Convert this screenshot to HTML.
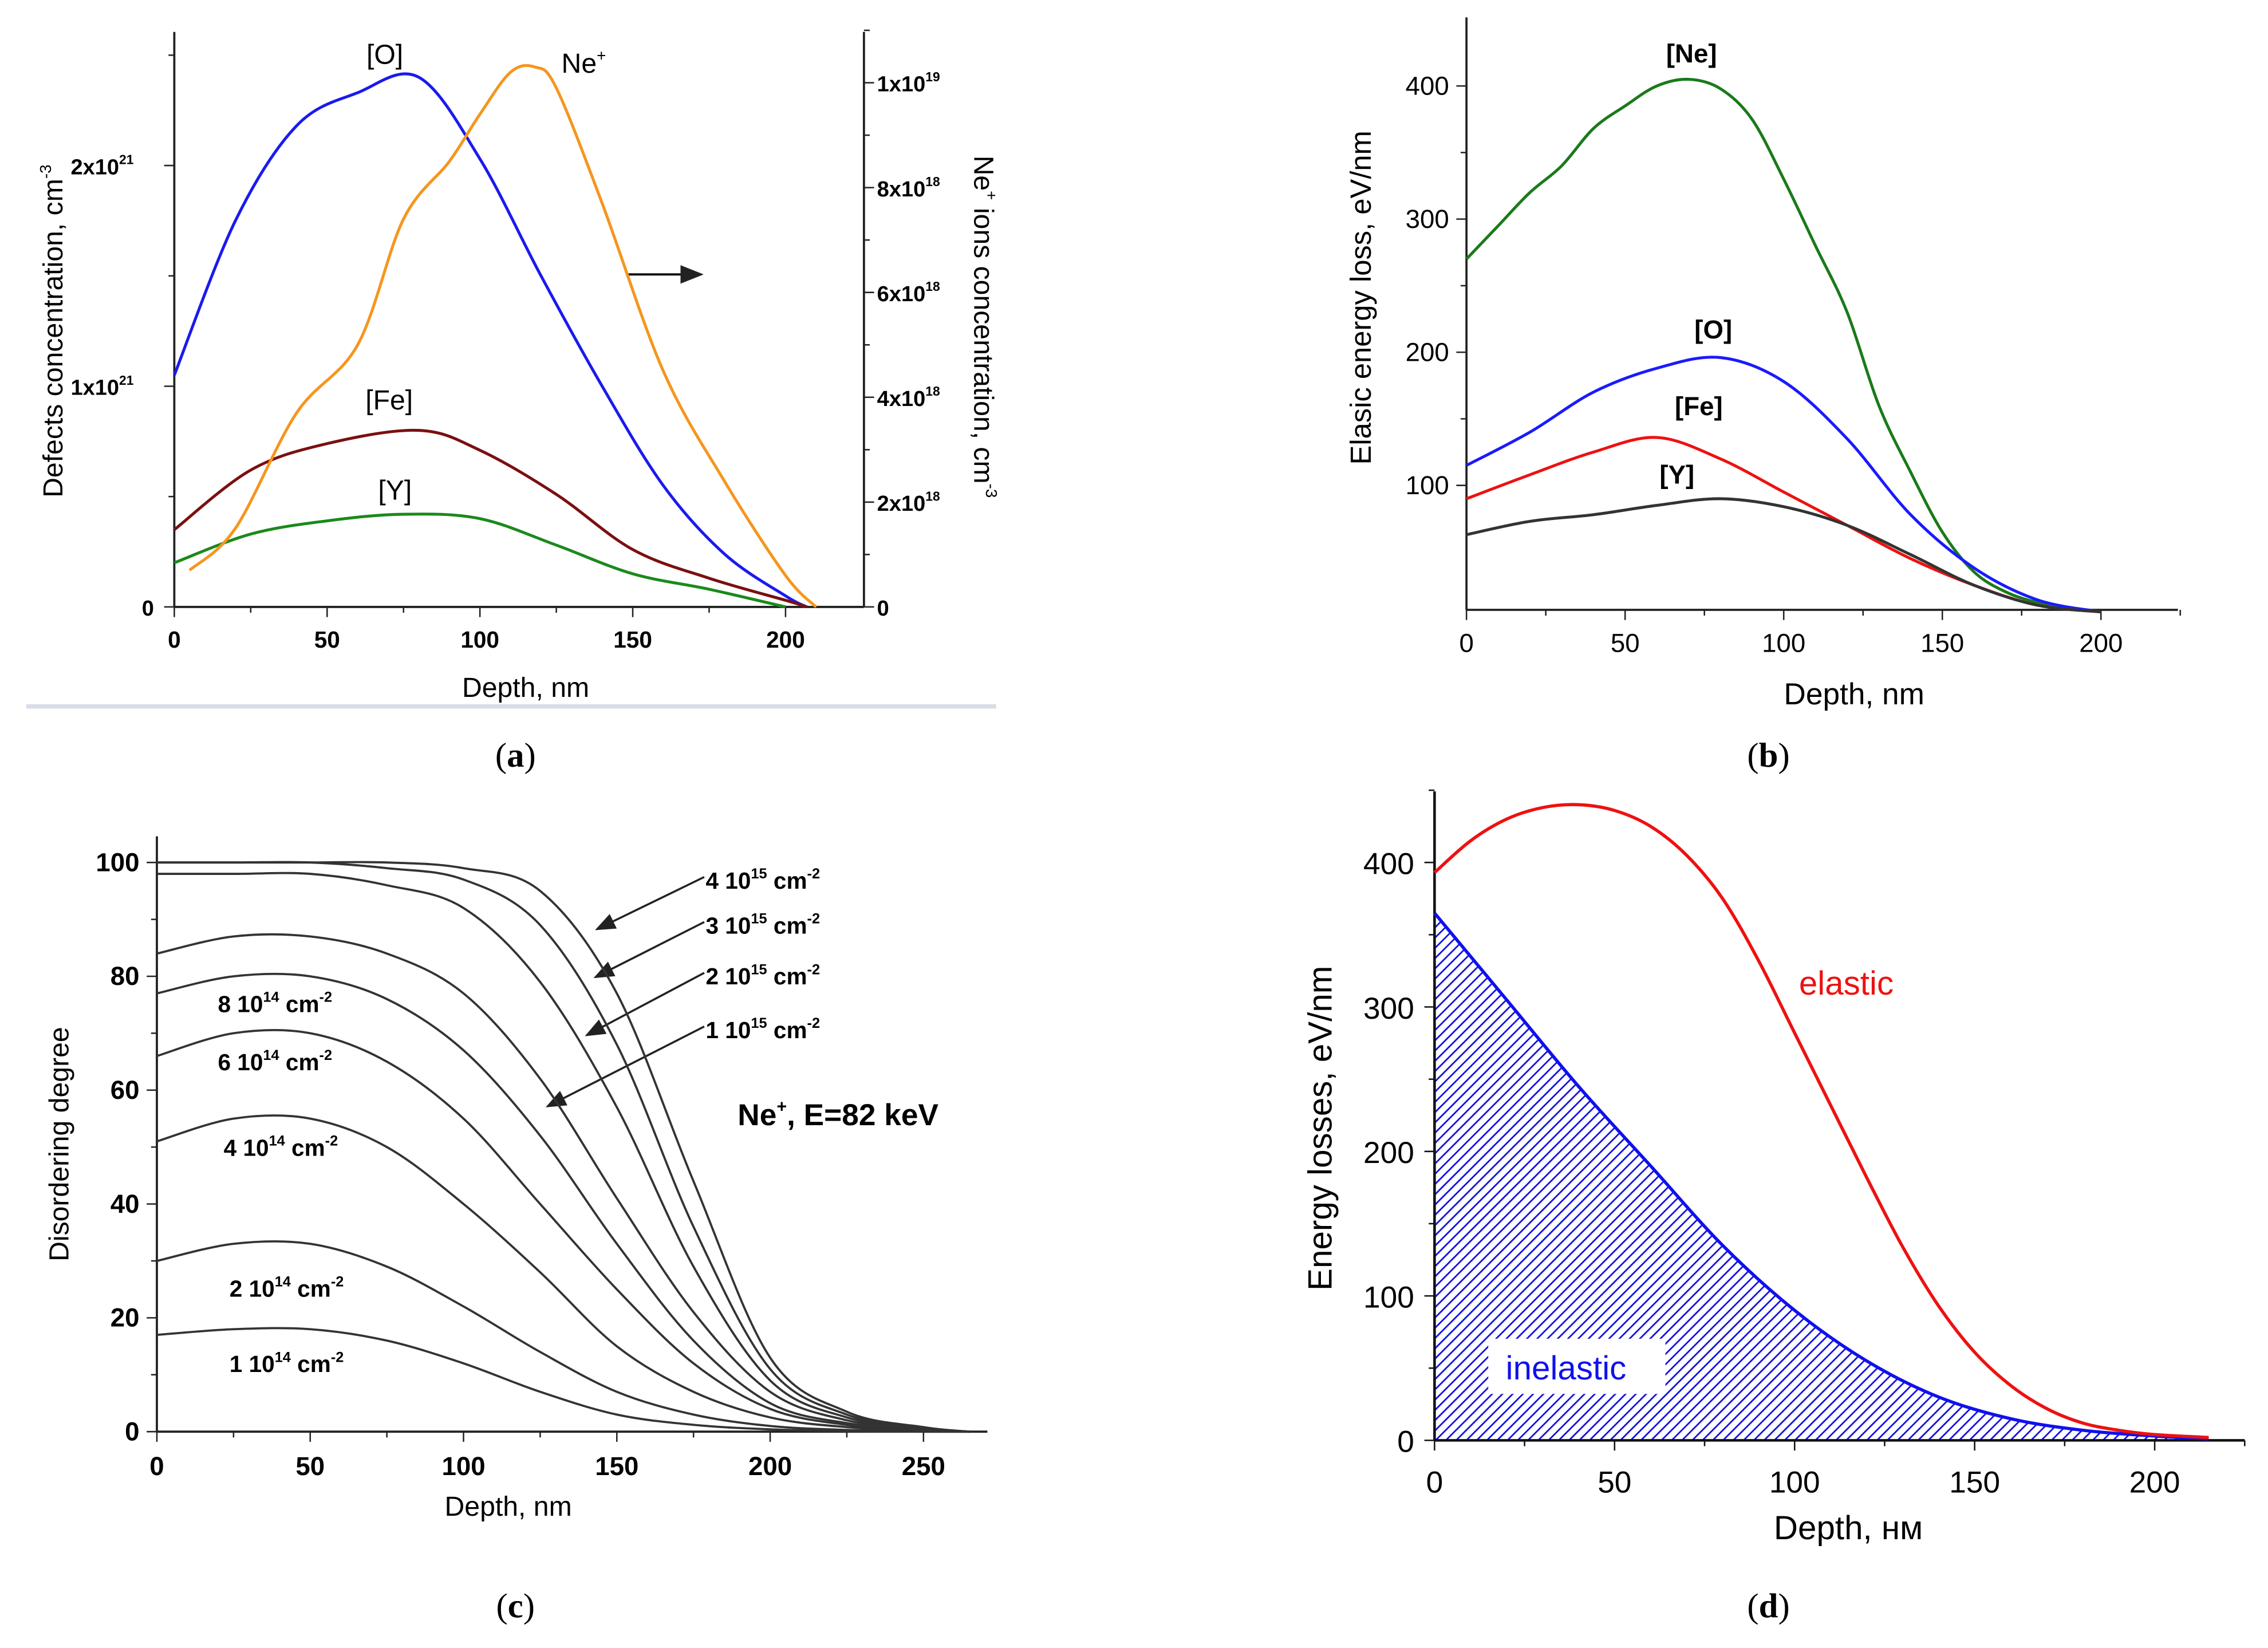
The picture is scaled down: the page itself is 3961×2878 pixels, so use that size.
<!DOCTYPE html>
<html><head><meta charset="utf-8"><style>
html,body{margin:0;padding:0;background:#fff}
svg{display:block}
text{font-family:"Liberation Sans",sans-serif}
.cap{font-family:"Liberation Serif",serif;font-size:24px}
</style></head><body>
<svg id="fig" width="3961" height="2878" viewBox="0 0 1562 1135" xmlns="http://www.w3.org/2000/svg">
<defs>
<pattern id="hatch" patternUnits="userSpaceOnUse" width="5" height="5" patternTransform="rotate(45)">
<rect width="5" height="5" fill="#fff"/><line x1="0" y1="0" x2="0" y2="5" stroke="#1010e0" stroke-width="2.2"/>
</pattern>
<marker id="arr" markerWidth="10" markerHeight="8" refX="9" refY="4" orient="auto"><path d="M0,0 L10,4 L0,8 z" fill="#222"/></marker>
</defs>
<g id="root"></g>
<text class="cap" x="355" y="528" text-anchor="middle">(<tspan font-weight="bold">a</tspan>)</text>
<text class="cap" x="1218" y="528" text-anchor="middle">(<tspan font-weight="bold">b</tspan>)</text>
<text class="cap" x="355" y="1114" text-anchor="middle">(<tspan font-weight="bold">c</tspan>)</text>
<text class="cap" x="1218" y="1114" text-anchor="middle">(<tspan font-weight="bold">d</tspan>)</text>
<rect x="18" y="485" width="668" height="3" fill="#d8dde6"/>
</svg>
<script>
// ---------- data ----------
// Panel a
const aDepth = [0,20,40,60,80,100,120,140,160,180,200,207];
const aO  = [1.05,1.75,2.18,2.33,2.40,2.03,1.5,1.0,0.55,0.24,0.05,0];
const aFeDepth = [0,25,50,80,100,125,150,175,200,207];
const aFe = [0.35,0.62,0.74,0.80,0.71,0.51,0.26,0.13,0.03,0];
const aYDepth = [0,25,50,75,100,125,150,175,200];
const aY  = [0.20,0.33,0.39,0.42,0.40,0.28,0.15,0.08,0.0];
const aNeDepth = [5,20,40,60,75,90,100,110,118,125,140,160,180,200,210];
const aNe = [0.7,1.5,3.7,5.0,7.4,8.5,9.4,10.2,10.3,9.9,7.7,4.5,2.4,0.6,0];
const aXTicks = [0,50,100,150,200];
const aYTicks = [0,1,2];
const aYTickLabels = ["0","1x10","2x10"];
const aRTicks = [0,2,4,6,8,10];
const aRTickLabels = ["0","2x10","4x10","6x10","8x10","1x10"];
// Panel b
const bDepth = [0,10,20,30,40,50,60,70,80,90,100,110,120,130,140,150,160,170,180,190,200];
const bNe = [270,295,320,340,368,385,400,405,398,375,330,280,230,160,110,65,35,20,12,8,5];
const bODepth = [0,20,40,60,80,100,120,140,160,180,200];
const bO = [115,140,170,188,196,178,135,78,38,14,5];
const bFeDepth = [0,20,40,60,80,100,120,140,160,180,200];
const bFe = [90,108,125,136,120,95,70,45,25,10,5];
const bYDepth = [0,20,40,60,80,100,120,140,160,180,200];
const bY = [63,73,78,85,90,84,70,48,25,10,5];
const bXTicks = [0,50,100,150,200];
const bYTicks = [100,200,300,400];
// Panel c
const cDepth = [0,25,50,75,100,125,150,175,200,225,250,265];
const cSeriesNames = ["1e14","2e14","4e14","6e14","8e14","1e15","2e15","3e15","4e15"];
const c1e14 = [17,18,18,16,12,7,3,1.2,0.4,0.1,0,0];
const c2e14 = [30,33,33,29,22,14,7,3,1,0.3,0.1,0];
const c4e14 = [51,55,55,50,40,28,15,7,2.5,0.8,0.2,0];
const c6e14 = [66,70,70,65,55,40,25,12,4,1.2,0.3,0];
const c8e14 = [77,80,80,76,67,52,33,16,5,1.5,0.4,0];
const c1e15 = [84,87,87,84,77,62,41,21,7,2,0.5,0];
const c2e15 = [98,98,98,96,92,79,57,29,9,2.5,0.6,0];
const c3e15 = [100,100,100,99,97,89,68,36,11,3,0.7,0];
const c4e15 = [100,100,100,100,99,95,77,44,13,3.5,0.8,0];
const cXTicks = [0,50,100,150,200,250];
const cYTicks = [0,20,40,60,80,100];
// Panel d
const dDepth = [0,10,20,30,40,50,60,70,80,90,100,110,120,130,140,150,160,170,180,190,200,215];
const dElastic = [393,415,430,438,440,436,425,405,375,332,282,232,182,134,93,61,38,22,12,7,4,2];
const dInDepth = [0,20,40,60,80,100,120,140,160,180,200,215];
const dInelastic = [365,305,245,190,135,90,55,30,15,7,3,1];
const dXTicks = [0,50,100,150,200];
const dYTicks = [0,100,200,300,400];

// ---------- helpers ----------
const NS="http://www.w3.org/2000/svg";
const root=document.getElementById('root');
function mk(tag,attrs,parent,txt){const e=document.createElementNS(NS,tag);for(const k in attrs)e.setAttribute(k,attrs[k]);if(txt!==undefined)e.textContent=txt;(parent||root).appendChild(e);return e;}
function lin(d0,d1,p0,p1){return v=>p0+(v-d0)*(p1-p0)/(d1-d0);}
function smooth(pts){let d=`M${pts[0][0]},${pts[0][1]}`;for(let i=0;i<pts.length-1;i++){const p0=pts[Math.max(0,i-1)],p1=pts[i],p2=pts[i+1],p3=pts[Math.min(pts.length-1,i+2)];const c1=[p1[0]+(p2[0]-p0[0])/6,p1[1]+(p2[1]-p0[1])/6],c2=[p2[0]-(p3[0]-p1[0])/6,p2[1]-(p3[1]-p1[1])/6];d+=`C${c1[0]},${c1[1]} ${c2[0]},${c2[1]} ${p2[0]},${p2[1]}`;}return d;}
function series(xs,ys,X,Y,color,w,name){const p=mk('path',{d:smooth(xs.map((x,i)=>[X(x),Y(ys[i])])),fill:'none',stroke:color,'stroke-width':w});


return p;}

// ---------- panel a ----------
(function(){
const g=mk('g',{});


const X=lin(0,200,120,541),Y=lin(0,1,418,266),R=lin(0,10,418,57);
mk('line',{x1:120,y1:22,x2:120,y2:418,stroke:'#222','stroke-width':1.5},g);
mk('line',{x1:120,y1:418,x2:595,y2:418,stroke:'#222','stroke-width':1.5},g);
mk('line',{x1:595,y1:22,x2:595,y2:418,stroke:'#222','stroke-width':1.5},g);
aXTicks.forEach(t=>{mk('line',{x1:X(t),y1:418,x2:X(t),y2:425,stroke:'#222'},g);const tx=mk('text',{x:X(t),y:446,'text-anchor':'middle','font-size':16,'font-weight':'bold'},g,t);});
[25,75,125,175].forEach(t=>mk('line',{x1:X(t),y1:418,x2:X(t),y2:422,stroke:'#222'},g));
aYTicks.forEach((t,i)=>{mk('line',{x1:113,y1:Y(t),x2:120,y2:Y(t),stroke:'#222'},g);const tx=mk('text',{x:t?92:106,y:Y(t)+6,'text-anchor':'end','font-size':15,'font-weight':'bold'},g,aYTickLabels[i]);if(t)mk('tspan',{dy:-7,'font-size':9},tx,'21');});
[0.5,1.5,2.5].forEach(t=>mk('line',{x1:116,y1:Y(t),x2:120,y2:Y(t),stroke:'#222'},g));
aRTicks.forEach((t,i)=>{mk('line',{x1:595,y1:R(t),x2:602,y2:R(t),stroke:'#222'},g);const tx=mk('text',{x:604,y:R(t)+6,'font-size':15,'font-weight':'bold'},g,aRTickLabels[i]);if(t)mk('tspan',{dy:-7,'font-size':9},tx,t==10?'19':'18');});
[1,3,5,7,9,11].forEach(t=>mk('line',{x1:595,y1:R(t),x2:599,y2:R(t),stroke:'#222'},g));
series(aDepth,aO,X,Y,'#1a1aee',2,'line-o');
series(aFeDepth,aFe,X,Y,'#7a1010',2,'line-fe');
series(aYDepth,aY,X,Y,'#1a8a1a',2,'line-y');
series(aNeDepth,aNe,X,R,'#f5961e',2,'line-ne');
mk('line',{x1:432,y1:189,x2:483,y2:189,stroke:'#111','stroke-width':1.6,'marker-end':'url(#arr)'},g);
const L=(x,y,t,n)=>{const e=mk('text',{x:x,y:y,'font-size':19,'text-anchor':'middle'},g,t);return e;};
L(265,44,'[O]','label-o');const ne=L(402,50,'Ne','label-ne');mk('tspan',{dy:-8,'font-size':11},ne,'+');
L(268,282,'[Fe]','label-fe');L(272,344,'[Y]','label-y');
const xt=mk('text',{x:362,y:480,'text-anchor':'middle','font-size':19},g,'Depth, nm');
const yt=mk('text',{transform:'translate(43,228) rotate(-90)','text-anchor':'middle','font-size':19},g,'Defects concentration, cm');mk('tspan',{dy:-8,'font-size':11},yt,'-3');
const rt=mk('text',{transform:'translate(671,225) rotate(90)','text-anchor':'middle','font-size':19},g,'Ne');mk('tspan',{dy:-8,'font-size':11},rt,'+');mk('tspan',{dy:8},rt,' ions concentration, cm');mk('tspan',{dy:-8,'font-size':11},rt,'-3');
})();

// ---------- panel b ----------
(function(){
const g=mk('g',{});


const X=lin(0,200,1010,1447),Y=lin(0,100,426,334.3);
mk('line',{x1:1010,y1:12,x2:1010,y2:420,stroke:'#222','stroke-width':1.5},g);
mk('line',{x1:1010,y1:420,x2:1500,y2:420,stroke:'#222','stroke-width':1.5},g);
bXTicks.forEach(t=>{mk('line',{x1:X(t),y1:420,x2:X(t),y2:427,stroke:'#222'},g);const tx=mk('text',{x:X(t),y:449,'text-anchor':'middle','font-size':18},g,t);});
[25,75,125,175,225].forEach(t=>mk('line',{x1:X(t),y1:420,x2:X(t),y2:424,stroke:'#222'},g));
bYTicks.forEach(t=>{mk('line',{x1:1003,y1:Y(t),x2:1010,y2:Y(t),stroke:'#222'},g);const tx=mk('text',{x:998,y:Y(t)+6,'text-anchor':'end','font-size':18},g,t);});
[150,250,350].forEach(t=>mk('line',{x1:1006,y1:Y(t),x2:1010,y2:Y(t),stroke:'#222'},g));
series(bDepth,bNe,X,Y,'#1a7a1a',2,'line-ne-b');
series(bODepth,bO,X,Y,'#1a1aff',2,'line-o-b');
series(bFeDepth,bFe,X,Y,'#ee1111',2,'line-fe-b');
series(bYDepth,bY,X,Y,'#333',2,'line-y-b');
const L=(x,y,t,n)=>{const e=mk('text',{x:x,y:y,'font-size':18,'font-weight':'bold','text-anchor':'middle'},g,t);};
L(1165,43,'[Ne]','label-ne-b');L(1180,233,'[O]','label-o-b');L(1170,286,'[Fe]','label-fe-b');L(1155,333,'[Y]','label-y-b');
const xt=mk('text',{x:1277,y:485,'text-anchor':'middle','font-size':21},g,'Depth, nm');
const yt=mk('text',{transform:'translate(944,205) rotate(-90)','text-anchor':'middle','font-size':20},g,'Elasic energy loss, eV/nm');
})();

// ---------- panel c ----------
(function(){
const g=mk('g',{});


const X=lin(0,250,108,636),Y=lin(0,100,986,594);
mk('line',{x1:108,y1:576,x2:108,y2:986,stroke:'#222','stroke-width':1.5},g);
mk('line',{x1:108,y1:986,x2:680,y2:986,stroke:'#222','stroke-width':1.5},g);
cXTicks.forEach(t=>{mk('line',{x1:X(t),y1:986,x2:X(t),y2:993,stroke:'#222'},g);const tx=mk('text',{x:X(t),y:1016,'text-anchor':'middle','font-size':18,'font-weight':'bold'},g,t);});
[25,75,125,175,225].forEach(t=>mk('line',{x1:X(t),y1:986,x2:X(t),y2:990,stroke:'#222'},g));
cYTicks.forEach(t=>{mk('line',{x1:101,y1:Y(t),x2:108,y2:Y(t),stroke:'#222'},g);const tx=mk('text',{x:96,y:Y(t)+6,'text-anchor':'end','font-size':18,'font-weight':'bold'},g,t);});
[10,30,50,70,90].forEach(t=>mk('line',{x1:104,y1:Y(t),x2:108,y2:Y(t),stroke:'#222'},g));
const all=[c1e14,c2e14,c4e14,c6e14,c8e14,c1e15,c2e15,c3e15,c4e15];
all.forEach((s,i)=>series(cDepth,s,X,Y,'#333',1.5,'line-dose-'+cSeriesNames[i]));
const L=(x,y,a,b,n)=>{const e=mk('text',{x:x,y:y,'font-size':16,'font-weight':'bold'},g,a+' 10');mk('tspan',{dy:-7,'font-size':10},e,b);mk('tspan',{dy:7},e,' cm');mk('tspan',{dy:-7,'font-size':10},e,'-2');};
L(486,612,'4','15','label-4e15');L(486,643,'3','15','label-3e15');L(486,678,'2','15','label-2e15');L(486,715,'1','15','label-1e15');
L(150,697,'8','14','label-8e14');
L(150,737,'6','14','label-6e14');
L(154,796,'4','14','label-4e14');L(158,893,'2','14','label-2e14');L(158,945,'1','14','label-1e14');
[[485,604,411,640],[485,635,410,673],[485,670,404,713],[485,707,377,762]].forEach(a=>{const l=mk('line',{x1:a[0],y1:a[1],x2:a[2],y2:a[3],stroke:'#222','stroke-width':1.4,'marker-end':'url(#arr)'},g);});
const ne=mk('text',{x:508,y:775,'font-size':21,'font-weight':'bold'},g,'Ne');mk('tspan',{dy:-9,'font-size':12},ne,'+');mk('tspan',{dy:9},ne,', E=82 keV');
const xt=mk('text',{x:350,y:1044,'text-anchor':'middle','font-size':19},g,'Depth, nm');
const yt=mk('text',{transform:'translate(47,788) rotate(-90)','text-anchor':'middle','font-size':19},g,'Disordering degree');
})();

// ---------- panel d ----------
(function(){
const g=mk('g',{});


const X=lin(0,200,988,1484),Y=lin(0,400,992,594);
const pts=dInDepth.map((x,i)=>[X(x),Y(dInelastic[i])]);
const area=mk('path',{d:smooth(pts)+`L${X(dInDepth[dInDepth.length-1])},${Y(0)} L${X(0)},${Y(0)} Z`,fill:'url(#hatch)',stroke:'none'},g);

series(dInDepth,dInelastic,X,Y,'#1010ee',2.2,'line-inelastic');
series(dDepth,dElastic,X,Y,'#ee1111',2.2,'line-elastic');
mk('line',{x1:988,y1:545,x2:988,y2:992,stroke:'#111','stroke-width':1.8},g);
mk('line',{x1:988,y1:992,x2:1546,y2:992,stroke:'#111','stroke-width':1.8},g);
dXTicks.forEach(t=>{mk('line',{x1:X(t),y1:992,x2:X(t),y2:999,stroke:'#111'},g);const tx=mk('text',{x:X(t),y:1028,'text-anchor':'middle','font-size':21},g,t);});
[25,75,125,175,225].forEach(t=>mk('line',{x1:X(t),y1:992,x2:X(t),y2:996,stroke:'#111'},g));
dYTicks.forEach(t=>{mk('line',{x1:981,y1:Y(t),x2:988,y2:Y(t),stroke:'#111'},g);const tx=mk('text',{x:974,y:Y(t)+8,'text-anchor':'end','font-size':21},g,t);});
[50,150,250,350,450].forEach(t=>mk('line',{x1:984,y1:Y(t),x2:988,y2:Y(t),stroke:'#111'},g));
mk('rect',{x:1025,y:922,width:122,height:38,fill:'#fff'},g);
const in1=mk('text',{x:1037,y:950,'font-size':23,fill:'#1010ee'},g,'inelastic');
const el=mk('text',{x:1239,y:685,'font-size':23,fill:'#ee1111'},g,'elastic');
const xt=mk('text',{x:1273,y:1060,'text-anchor':'middle','font-size':23},g,'Depth, нм');
const yt=mk('text',{transform:'translate(917,777) rotate(-90)','text-anchor':'middle','font-size':23},g,'Energy losses, eV/nm');
})();
</script>
</body></html>
